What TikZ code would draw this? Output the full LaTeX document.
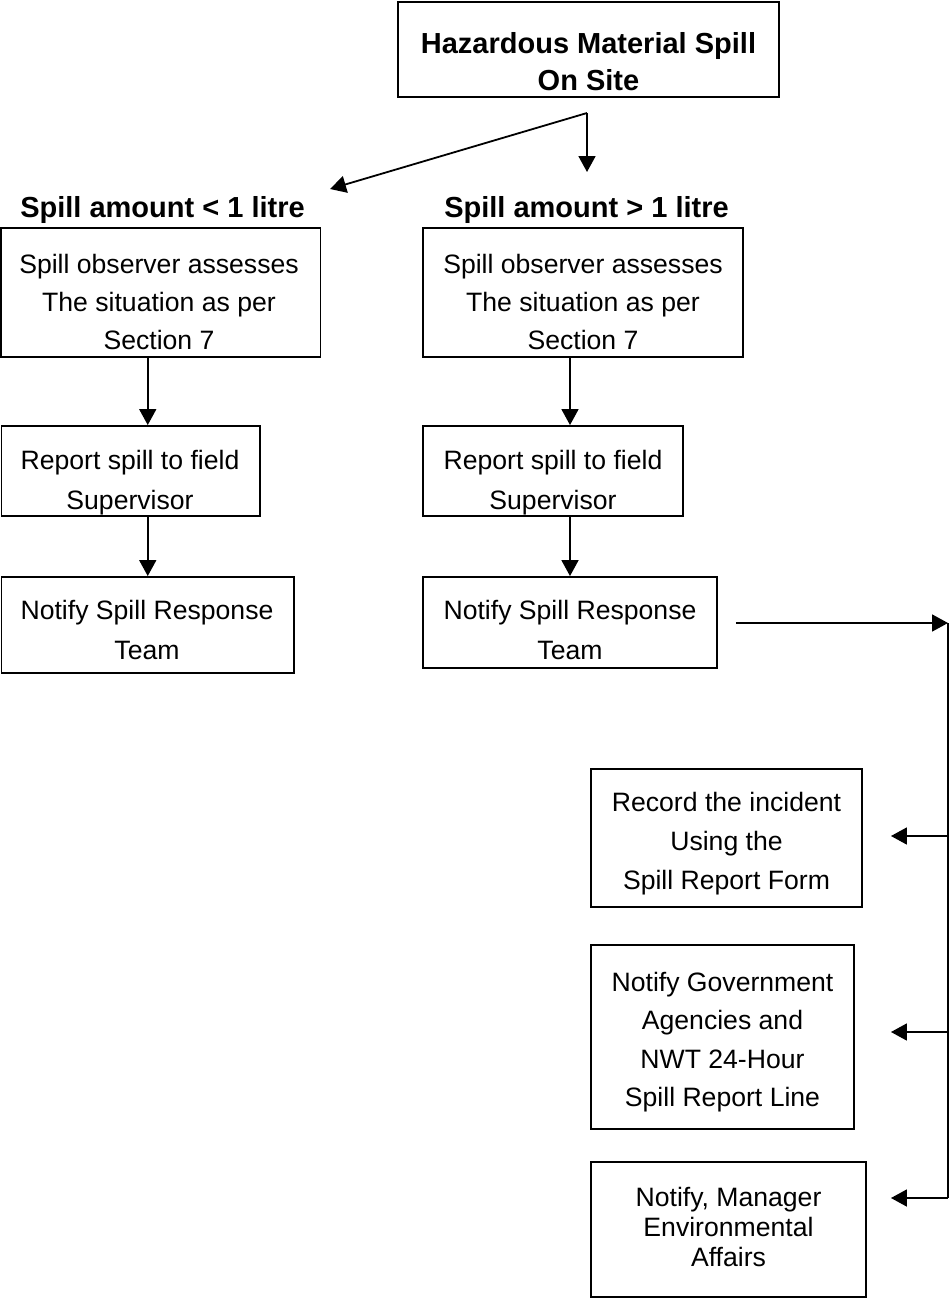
\documentclass[tikz,border=0pt]{standalone}
\usepackage{fontspec}
\setmainfont{Liberation Sans}
\usetikzlibrary{arrows.meta}
\begin{document}
\begin{tikzpicture}[x=1pt,y=-1pt,
  box/.style={draw, line width=1.9pt, rectangle, inner sep=0pt},
  txt/.style={align=center, inner sep=0pt, font=\fontsize{26.6}{#1}\selectfont,
    execute at begin node=\strut, execute at end node=\strut},
  txt/.default=38,
  btxt/.style={align=center, inner sep=0pt, font=\fontsize{29}{37}\selectfont\bfseries,
    execute at begin node=\strut, execute at end node=\strut},
  conn/.style={line width=1.8pt},
  arr/.style={conn, -{Triangle[length=16pt,width=17pt]}}
]
\useasboundingbox (0,0) rectangle (950,1298);

% boxes
\node[box, minimum width=381pt, minimum height=95pt] (top) at (588.5,49.5) {};
\node[btxt] (topt) at (588.5,67.5) {Hazardous Material Spill\\On Site};

\node[btxt] (lh) at (162.5,210) {Spill amount < 1 litre};
\node[btxt] (rh) at (586.5,210) {Spill amount > 1 litre};

\node[box, minimum width=319.5pt, minimum height=129pt] (l1) at (160.75,292.5) {};
\node[txt] (l1t) at (159,308) {Spill observer assesses\\The situation as per\\Section 7};
\node[box, minimum width=258.5pt, minimum height=90pt] (l2) at (130.75,471) {};
\node[txt=40] (l2t) at (130,485.5) {Report spill to field\\Supervisor};
\node[box, minimum width=292.5pt, minimum height=96pt] (l3) at (147.75,625) {};
\node[txt=40] (l3t) at (147,635.5) {Notify Spill Response\\Team};

\node[box, minimum width=320pt, minimum height=129pt] (r1) at (583,292.5) {};
\node[txt] (r1t) at (583,308) {Spill observer assesses\\The situation as per\\Section 7};
\node[box, minimum width=260pt, minimum height=90pt] (r2) at (553,471) {};
\node[txt=40] (r2t) at (553,485.5) {Report spill to field\\Supervisor};
\node[box, minimum width=294pt, minimum height=91pt] (r3) at (570,622.5) {};
\node[txt=40] (r3t) at (570,635.5) {Notify Spill Response\\Team};

\node[box, minimum width=271pt, minimum height=138pt] (rec) at (726.5,838) {};
\node[txt=39] (rect) at (726.5,846.5) {Record the incident\\Using the\\Spill Report Form};
\node[box, minimum width=263pt, minimum height=184pt] (gov) at (722.5,1037) {};
\node[txt=38.3] (govt) at (722.5,1045) {Notify Government\\Agencies and\\NWT 24-Hour\\Spill Report Line};
\node[box, minimum width=275pt, minimum height=135pt] (mgr) at (728.5,1229.5) {};
\node[txt=30] (mgrt) at (728.5,1231.5) {Notify, Manager\\Environmental\\Affairs};

% connectors
\coordinate (split) at (587,113);
\coordinate (tipL) at (330,189);
\coordinate (tipR) at (587,172);
\draw[arr] (split) -- (tipL);
\draw[arr] (split) -- (tipR);

\draw[arr] (l1.south -| l3.north) -- (l2.north -| l3.north);
\draw[arr] (l2.south -| l3.north) -- (l3.north);
\draw[arr] (r1.south -| r3.north) -- (r2.north -| r3.north);
\draw[arr] (r2.south -| r3.north) -- (r3.north);

\coordinate (bus) at (948,623);
\coordinate (b1) at (948,836);
\coordinate (b2) at (948,1032);
\coordinate (b3) at (948,1198);
\draw[arr, shorten <=18pt] (r3.east |- bus) -- (bus);
\draw[conn] (bus) -- (b3);
\draw[arr, shorten >=28pt] (b1) -- (rec.east |- b1);
\draw[arr, shorten >=36pt] (b2) -- (gov.east |- b2);
\draw[arr, shorten >=24pt] (b3) -- (mgr.east |- b3);
\end{tikzpicture}
\end{document}
